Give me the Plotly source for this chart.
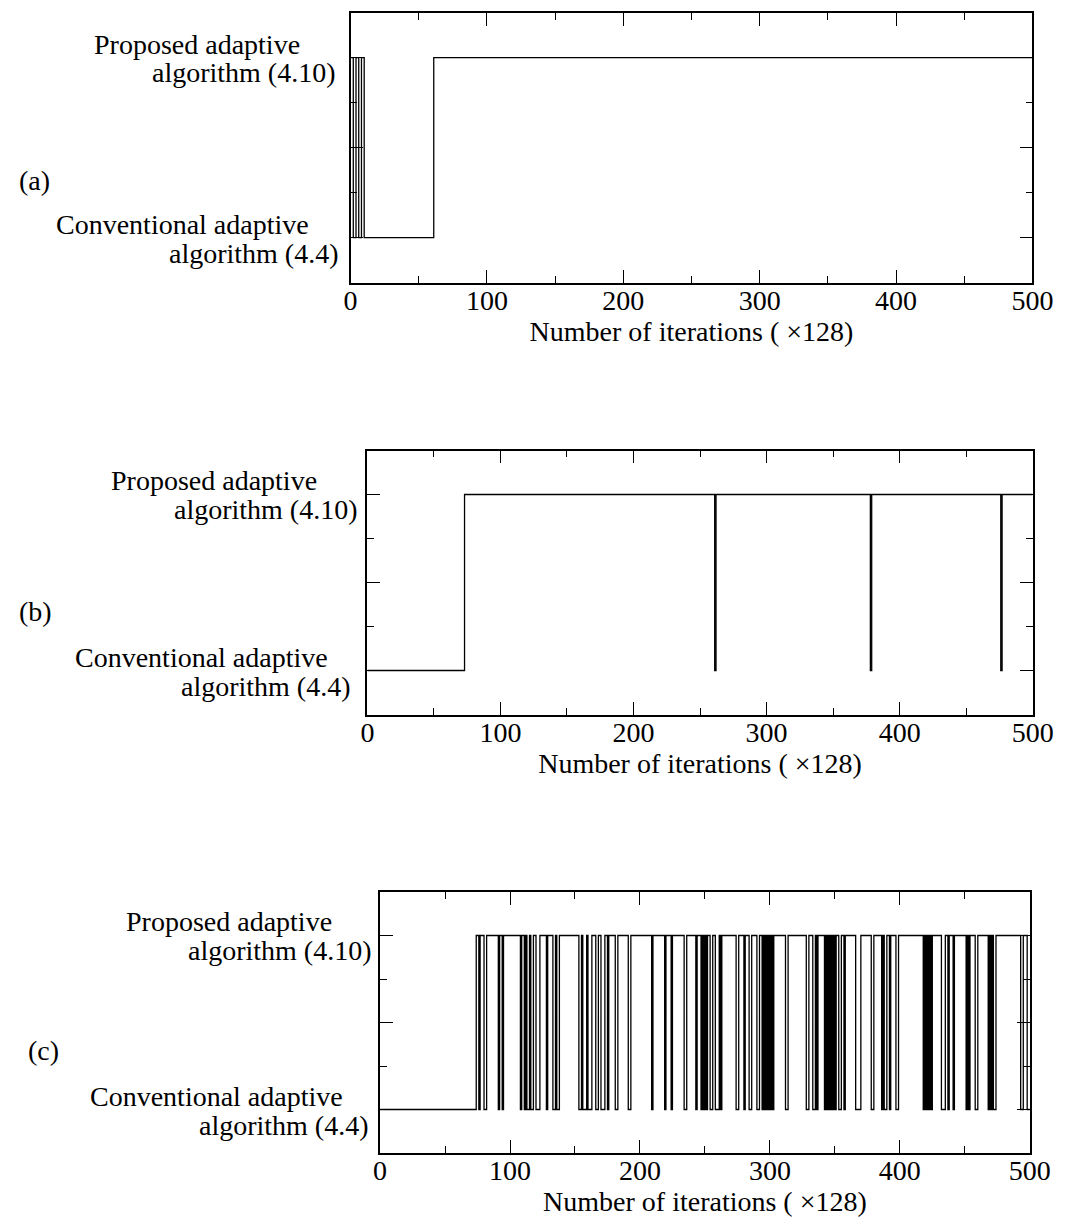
import plotly.graph_objects as go

# Algorithm selected at each iteration block: 1 = proposed (4.10), 0 = conventional (4.4)
a_switch_iter = [0, 2, 4, 6, 8, 10, 61, 500]
a_state = [1, 0, 1, 0, 1, 0, 1, 1]

b_switch_iter = [0, 73, 261, 262, 378, 379, 476, 477, 500]
b_state = [0, 1, 0, 1, 0, 1, 0, 1, 1]

# (c): intervals (start, end) during which the conventional algorithm is used
c_conv_runs = [
    (0, 74), (76, 77), (80, 82), (91, 92), (94, 95), (108, 109), (111, 112),
    (113, 115), (116, 118), (120, 123), (128, 129), (133, 135), (136, 138),
    (153, 155), (156, 159), (160, 163), (166, 168), (170, 173), (175, 176),
    (181, 183), (191, 193), (209, 210), (219, 220), (224, 225), (234, 236),
    (243, 244), (247, 248), (249, 250), (251, 252), (254, 256), (258, 261),
    (262, 263), (274, 276), (280, 281), (284, 286), (290, 292), (294, 295),
    (296, 297), (298, 299), (300, 301), (302, 303), (312, 314), (328, 330),
    (333, 335), (336, 337), (342, 343), (344, 345), (346, 347), (348, 349),
    (350, 351), (353, 355), (357, 358), (366, 370), (378, 380), (386, 387),
    (388, 390), (392, 393), (397, 399), (418, 419), (420, 421), (422, 423),
    (424, 425), (432, 435), (437, 438), (441, 442), (451, 452), (453, 454),
    (458, 460), (468, 469), (470, 471), (472, 474), (493, 495), (498, 500),
]

x_tick_vals = [0, 100, 200, 300, 400, 500]
x_tick_text = ["0", "100", "200", "300", "400", "500"]
x_title = "Number of iterations ( \u00d7128)"
label_proposed = ["Proposed adaptive", "algorithm (4.10)"]
label_conventional = ["Conventional adaptive", "algorithm (4.4)"]
panel_tags = ["(a)", "(b)", "(c)"]

W, H = 1080, 1220
FONT = "Liberation Serif, Times New Roman, serif"
FS = 28


def runs_to_steps(runs, x_end=500):
    xs, ys = [], []
    cur = 0
    for s, e in runs:
        if s > cur:
            xs.append(cur); ys.append(1)
        xs.append(s); ys.append(0)
        cur = e
    if cur < x_end:
        xs.append(cur); ys.append(1)
    xs.append(x_end); ys.append(ys[-1])
    return xs, ys


c_switch_iter, c_state = runs_to_steps(c_conv_runs)

# panel boxes in pixels: left, right, top, bottom
panels = [
    dict(x=a_switch_iter, y=a_state, box=(352.7, 1052.7, 12.7, 282.7)),
    dict(x=b_switch_iter, y=b_state, box=(370, 1053, 450.5, 714.5)),
    dict(x=c_switch_iter, y=c_state, box=(383, 1050, 892, 1153)),
]

# label placement: right edge of line1/line2 (px from the y axis) and
# vertical offsets of line1/line2 (px from the level they name)
label_pos = [
    dict(P=(-50, -13, -13, 15), C=(-41, -10, -13, 16), tag=(10, 181)),
    dict(P=(-50, -8, -14, 15), C=(-38, -15, -13, 16), tag=(10, 611)),
    dict(P=(-47, -6, -14, 15), C=(-36, -9, -13, 16), tag=(20, 1050)),
]

fig = go.Figure()
annotations = []
for i, p in enumerate(panels):
    n = "" if i == 0 else str(i + 1)
    xa, ya = "x" + n, "y" + n
    L, R, T, B = p["box"]
    fig.add_trace(go.Scatter(
        x=p["x"], y=p["y"], mode="lines", line_shape="hv",
        line=dict(color="black", width=1.3), xaxis=xa, yaxis=ya,
        showlegend=False, hoverinfo="skip"))
    axis_common = dict(showline=True, linecolor="black", linewidth=1.6,
                       mirror="ticks", ticks="inside", tickcolor="black",
                       tickwidth=1.3, showgrid=False, zeroline=False)
    fig.update_layout(**{
        "xaxis" + n: dict(
            domain=[L / W, R / W], range=[0, 500], anchor=ya,
            tickvals=x_tick_vals, ticktext=x_tick_text, ticklen=13,
            minor=dict(dtick=50, tick0=0, ticklen=7, ticks="inside",
                       tickcolor="black", tickwidth=1.3, showgrid=False),
            tickfont=dict(family=FONT, size=FS, color="black"),
            ticklabelstandoff=-8,
            title=dict(text=x_title, font=dict(family=FONT, size=FS, color="black"),
                       standoff=4),
            **axis_common),
        "yaxis" + n: dict(
            domain=[1 - B / H, 1 - T / H], range=[-0.25, 1.25], anchor=xa,
            tick0=0, dtick=0.5, ticklen=13, showticklabels=False,
            minor=dict(dtick=0.25, tick0=0, ticklen=7, ticks="inside",
                       tickcolor="black", tickwidth=1.3, showgrid=False),
            **axis_common),
    })
    lp = label_pos[i]
    for key, lines, yv in (("P", label_proposed, 1), ("C", label_conventional, 0)):
        d1, d2, s1, s2 = lp[key]
        for txt, dx, dy in ((lines[0], d1, s1), (lines[1], d2, s2)):
            annotations.append(dict(
                text=txt, xref="paper", yref=ya, x=(L + dx) / W, y=yv,
                yshift=-dy, xanchor="right", yanchor="middle", showarrow=False,
                font=dict(family=FONT, size=FS, color="black")))
    tx, ty = lp["tag"]
    annotations.append(dict(
        text=panel_tags[i], xref="paper", yref="paper", x=tx / W, y=1 - ty / H,
        xanchor="left", yanchor="middle", showarrow=False,
        font=dict(family=FONT, size=FS, color="black")))

fig.update_layout(
    width=W, height=H, margin=dict(l=0, r=0, t=0, b=0),
    paper_bgcolor="white", plot_bgcolor="white",
    annotations=annotations,
)

fig.write_html("out.html")
